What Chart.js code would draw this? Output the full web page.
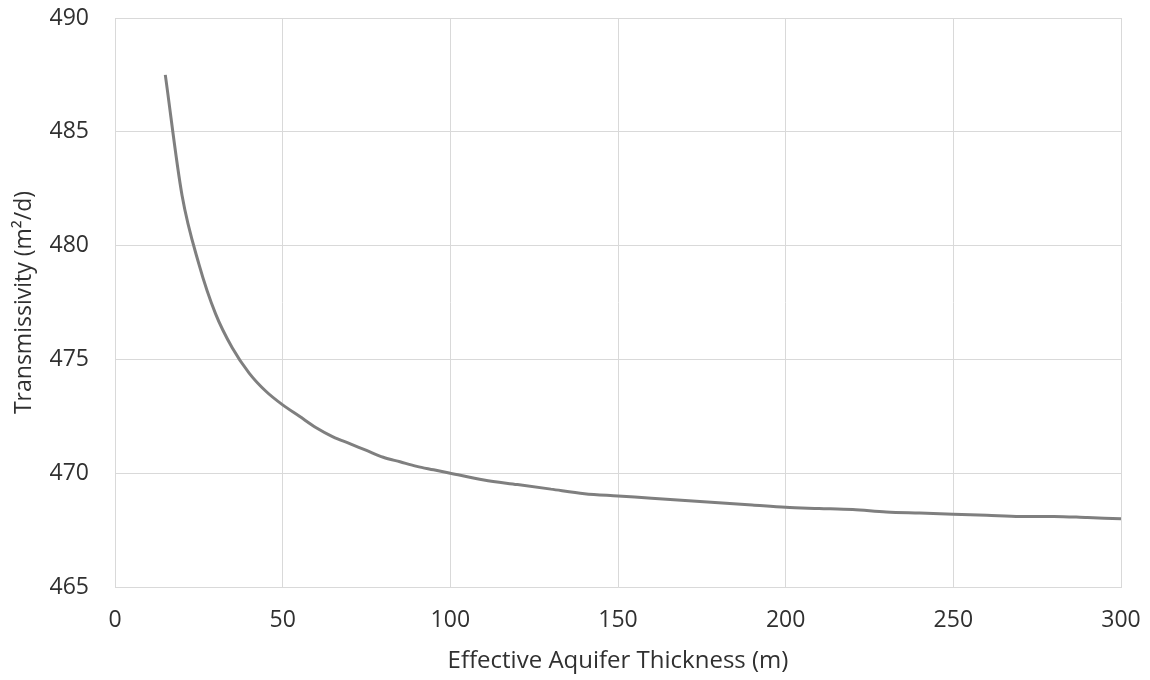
<!DOCTYPE html>
<html>
<head>
<meta charset="utf-8">
<script src="https://cdn.jsdelivr.net/npm/chart.js@4"></script>
<style>
  body { margin: 0; background: #fff; }
  #wrap { width: 1150px; height: 680px; }
</style>
</head>
<body>
<div id="wrap"><canvas id="grafico"></canvas></div>
<script>
// valores
const espessura = [15, 20, 25, 30, 35, 40, 45, 50, 55, 60, 65, 70, 75, 80, 85, 90, 95, 100,
    110, 120, 130, 140, 150, 160, 170, 180, 190, 200, 210, 220, 230, 240, 250, 260, 270, 280, 290, 300];
const transmissividade = [487.5, 482.2, 479.2, 477.0, 475.5, 474.4, 473.6, 473.0, 472.5, 472.0, 471.6, 471.3, 471.0, 470.7, 470.5, 470.3, 470.15, 470.0,
    469.7, 469.5, 469.3, 469.1, 469.0, 468.9, 468.8, 468.7, 468.6, 468.5, 468.45, 468.4, 468.3, 468.25, 468.2, 468.15, 468.1, 468.1, 468.05, 468.0];
const ticksX = [0, 50, 100, 150, 200, 250, 300];
const ticksY = [465, 470, 475, 480, 485, 490];

const pontos = espessura.map((h, i) => ({ x: h, y: transmissividade[i] }));

const fonteTicks = { family: "'Open Sans', sans-serif", size: 23 };
const fonteTitulo = { family: "'Open Sans', sans-serif", size: 23 };
const corTexto = '#303030';
const corGrade = '#d9d9d9';

const grafico = document.getElementById('grafico');

new Chart(grafico, {
    type: 'line',
    data: {
        datasets: [{
            data: pontos,
            borderColor: '#7f7f7f',
            borderWidth: 3,
            pointRadius: 0,
            cubicInterpolationMode: 'monotone',
            fill: false
        }]
    },
    options: {
        responsive: true,
        maintainAspectRatio: false,
        animation: false,
        layout: { padding: { top: 18, right: 29, bottom: 0, left: 0 } },
        plugins: {
            legend: { display: false },
            tooltip: { enabled: false }
        },
        scales: {
            x: {
                type: 'linear',
                min: 0,
                max: 300,
                afterBuildTicks: axis => { axis.ticks = ticksX.map(v => ({ value: v })); },
                afterFit: axis => {
                    axis.height = 93;
                    axis.paddingLeft = 0;
                    axis.paddingRight = 0;
                },
                grid: { color: corGrade, drawTicks: false },
                border: { color: corGrade },
                ticks: { color: corTexto, font: fonteTicks, padding: 20, maxRotation: 0 },
                title: {
                    display: true,
                    text: 'Effective Aquifer Thickness (m)',
                    color: corTexto,
                    font: { family: fonteTitulo.family, size: 24 },
                    padding: { top: 0, bottom: 4 }
                }
            },
            y: {
                min: 465,
                max: 490,
                afterBuildTicks: axis => { axis.ticks = ticksY.map(v => ({ value: v })); },
                afterFit: axis => {
                    axis.width = 115;
                    axis.paddingTop = 0;
                    axis.paddingBottom = 0;
                },
                grid: { color: corGrade, drawTicks: false },
                border: { color: corGrade },
                ticks: { color: corTexto, font: fonteTicks, padding: 26 },
                title: {
                    display: true,
                    text: 'Transmissivity (m²/d)',
                    color: corTexto,
                    font: fonteTitulo,
                    padding: { top: 11, bottom: 0 }
                }
            }
        }
    }
});
</script>
</body>
</html>
